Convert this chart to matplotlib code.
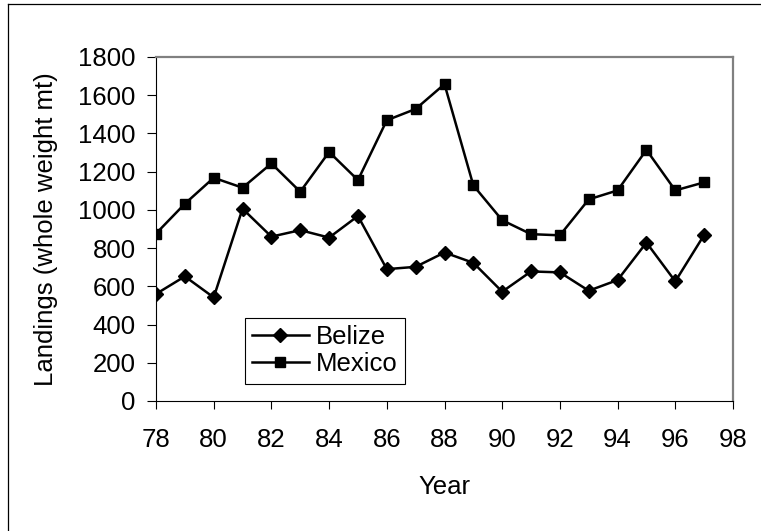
import matplotlib
matplotlib.use("Agg")
import matplotlib.pyplot as plt
from matplotlib.lines import Line2D

# data
years = [78, 79, 80, 81, 82, 83, 84, 85, 86, 87, 88, 89, 90, 91, 92, 93, 94, 95, 96, 97]
belize = [560, 652, 542, 1006, 860, 894, 855, 968, 690, 702,
          777, 723, 572, 678, 673, 577, 633, 829, 626, 869]
mexico = [876, 1032, 1168, 1116, 1243, 1095, 1303, 1156, 1469, 1528,
          1658, 1128, 946, 873, 867, 1055, 1102, 1314, 1102, 1144]
xticks = list(range(78, 99, 2))
yticks = list(range(0, 1801, 200))

plt.rcParams['font.family'] = ['Liberation Sans', 'DejaVu Sans']
plt.rcParams['font.size'] = 18.5

fig = plt.figure(figsize=(7.61, 5.31), dpi=100)
ax = fig.add_axes([156 / 761, 1 - 401 / 531, 577 / 761, 344 / 531])

ax.plot(years, belize, color='black', lw=1.8, marker='D', ms=7, label='Belize')
ax.plot(years, mexico, color='black', lw=1.8, marker='s', ms=7.4, label='Mexico')

ax.set_xlim(78, 98)
ax.set_ylim(0, 1800)
ax.set_xticks(xticks)
ax.set_yticks(yticks)
ax.tick_params(axis='y', direction='out', length=6.5, width=0.8, pad=8)
ax.tick_params(axis='x', direction='out', length=5.5, width=0.8, pad=14)

for side in ['left', 'bottom']:
    ax.spines[side].set_color('black')
    ax.spines[side].set_linewidth(0.8)
for side in ['top', 'right']:
    ax.spines[side].set_color('#808080')
    ax.spines[side].set_linewidth(1.6)

ax.set_xlabel('Year')
ax.xaxis.set_label_coords(0.5, -0.216)
ax.set_ylabel('Landings (whole weight mt)', va='center', ha='center')
ax.yaxis.set_label_coords(-0.19, 0.5)

leg = ax.legend(loc='upper left', bbox_to_anchor=(0.154, 0.241), fancybox=False,
                edgecolor='black', framealpha=1, handlelength=2.2, handletextpad=0.3,
                labelspacing=0.12, borderpad=0.28, borderaxespad=0)
leg.get_frame().set_linewidth(0.8)

# outer frame lines (top and left only)
fig.add_artist(Line2D([8 / 761, 1], [1 - 4 / 531, 1 - 4 / 531], color='black', lw=0.9))
fig.add_artist(Line2D([8 / 761, 8 / 761], [0, 1 - 4 / 531], color='black', lw=0.9))

fig.savefig('out.png', dpi=100)
